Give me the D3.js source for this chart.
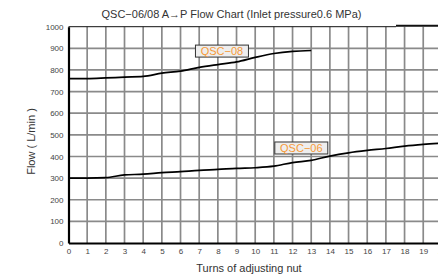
<!DOCTYPE html>
<html>
<head>
<meta charset="utf-8">
<script src="https://cdn.jsdelivr.net/npm/d3@7"></script>
<style>
  body { margin: 0; background: #fff; }
  svg { display: block; font-family: "Liberation Sans", Arial, sans-serif; }
</style>
</head>
<body>
<svg id="canvas" width="438" height="277"></svg>
<script>
// chart values
let xTicks = d3.range(0, 21)
let yTicks = d3.range(0, 1001, 100)
let qsc08Turns = [0, 1, 2, 3, 4, 5, 6, 7, 8, 9, 10, 11, 12, 13]
let qsc08Flow = [760, 760, 763, 767, 770, 785, 795, 812, 825, 837, 858, 876, 886, 890]
let qsc06Turns = [0, 1, 2, 3, 4, 5, 6, 7, 8, 9, 10, 11, 12, 13, 14, 15, 16, 17, 18, 19, 20]
let qsc06Flow = [300, 300, 302, 315, 318, 325, 330, 336, 340, 345, 348, 355, 372, 382, 402, 417, 428, 437, 448, 456, 462]
let seriesNames = ['QSC\u221208', 'QSC\u221206']

let canvas = d3.select('#canvas')

let xScale = d3.scaleLinear().domain([0, 20]).range([68.5, 441.9])
let yScale = d3.scaleLinear().domain([0, 1000]).range([243, 26.7])

// grid
canvas.append('g')
    .selectAll('line')
    .data(xTicks.slice(1))
    .enter()
    .append('line')
    .attr('x1', (d) => xScale(d))
    .attr('x2', (d) => xScale(d))
    .attr('y1', yScale(1000))
    .attr('y2', yScale(0))
    .attr('stroke', '#8a8a8a')
    .attr('stroke-width', 1.7)

canvas.append('g')
    .selectAll('line')
    .data(yTicks.slice(1, -1))
    .enter()
    .append('line')
    .attr('x1', xScale(0))
    .attr('x2', 438)
    .attr('y1', (d) => yScale(d))
    .attr('y2', (d) => yScale(d))
    .attr('stroke', '#8a8a8a')
    .attr('stroke-width', 1.7)

// top border
canvas.append('line')
    .attr('x1', xScale(0)).attr('x2', 396)
    .attr('y1', yScale(1000)).attr('y2', yScale(1000))
    .attr('stroke', '#111').attr('stroke-width', 1)
canvas.append('line')
    .attr('x1', 396).attr('x2', 438)
    .attr('y1', yScale(1000) - 1).attr('y2', yScale(1000) - 1)
    .attr('stroke', '#111').attr('stroke-width', 2)

// axes
let xAxis = d3.axisBottom(xScale).tickValues(xTicks).tickSize(0).tickPadding(5).tickFormat(d3.format('d'))
let yAxis = d3.axisLeft(yScale).tickValues(yTicks).tickSize(0).tickPadding(5).tickFormat(d3.format('d'))

let gx = canvas.append('g')
    .attr('transform', 'translate(0,' + yScale(0) + ')')
    .call(xAxis)
gx.select('.domain').attr('stroke', '#000').attr('stroke-width', 2.2)
gx.selectAll('text').attr('font-size', 8).attr('fill', '#444')
    .attr('font-family', '"Liberation Sans", Arial, sans-serif')

let gy = canvas.append('g')
    .attr('transform', 'translate(' + xScale(0) + ',0)')
    .call(yAxis)
gy.select('.domain').attr('stroke', '#000').attr('stroke-width', 2.2)
gy.selectAll('text').attr('font-size', 8).attr('fill', '#444')
    .attr('font-family', '"Liberation Sans", Arial, sans-serif')

// curves
let line = d3.line()
    .x((d) => xScale(d[0]))
    .y((d) => yScale(d[1]))
    .curve(d3.curveMonotoneX)

let series = [
    { name: seriesNames[0], points: d3.zip(qsc08Turns, qsc08Flow), labelAt: [6.8, 915] },
    { name: seriesNames[1], points: d3.zip(qsc06Turns, qsc06Flow), labelAt: [11.05, 467] }
]

canvas.selectAll('path.flow')
    .data(series)
    .enter()
    .append('path')
    .attr('class', 'flow')
    .attr('d', (s) => line(s.points))
    .attr('fill', 'none')
    .attr('stroke', '#000')
    .attr('stroke-width', 1.7)

let labels = canvas.selectAll('g.label')
    .data(series)
    .enter()
    .append('g')
    .attr('class', 'label')
    .attr('transform', (s) => 'translate(' + xScale(s.labelAt[0]) + ',' + yScale(s.labelAt[1]) + ')')

labels.append('rect')
    .attr('width', 53)
    .attr('height', 12)
    .attr('fill', '#eeeeee')
    .attr('stroke', '#333')
    .attr('stroke-width', 1)

labels.append('text')
    .attr('x', 26.5)
    .attr('y', 10)
    .attr('text-anchor', 'middle')
    .attr('font-size', 11)
    .attr('fill', '#f59a3a')
    .text((s) => s.name)

// titles
canvas.append('text')
    .attr('x', 231.5)
    .attr('y', 18)
    .attr('text-anchor', 'middle')
    .attr('font-size', 11)
    .attr('fill', '#333')
    .text('QSC\u221206/08 A\u2192P Flow Chart (Inlet pressure0.6 MPa)')

canvas.append('text')
    .attr('x', 249)
    .attr('y', 272)
    .attr('text-anchor', 'middle')
    .attr('font-size', 11)
    .attr('fill', '#333')
    .text('Turns of adjusting nut')

canvas.append('text')
    .attr('transform', 'translate(35,141.5) rotate(-90)')
    .attr('text-anchor', 'middle')
    .attr('font-size', 11)
    .attr('fill', '#333')
    .text('Flow ( L/min )')
</script>
</body>
</html>
